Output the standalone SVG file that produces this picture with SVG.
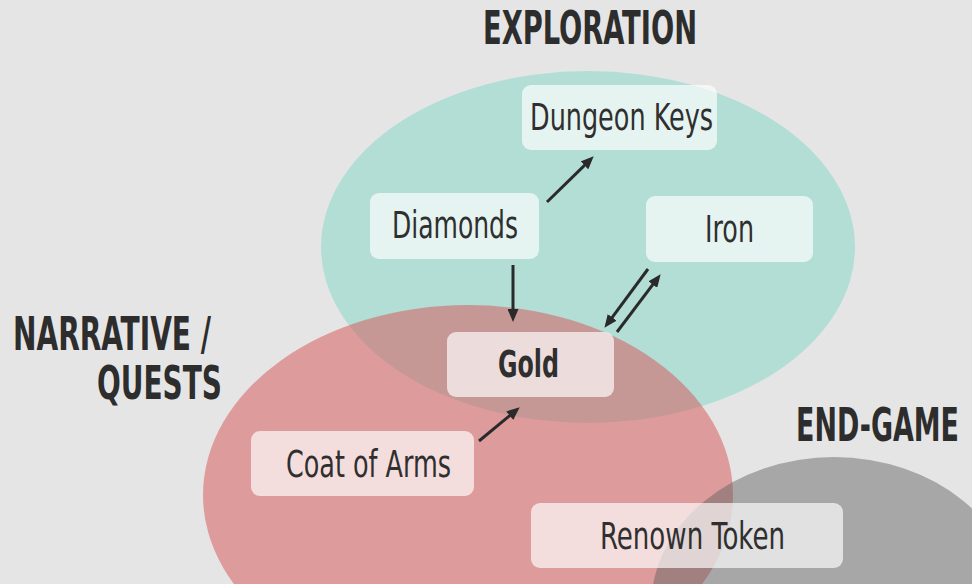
<svg xmlns="http://www.w3.org/2000/svg" width="972" height="584" viewBox="0 0 972 584">
<style>
.bg{fill:#e6e5e5}
.teal{fill:#b2ded6}
.red{fill:#d75f61;fill-opacity:0.55}
.gray{fill:#626262;fill-opacity:0.47}
.box{fill:#ffffff;fill-opacity:0.66}
.lbl{font-family:"Liberation Sans Narrow","DejaVu Sans Condensed","Roboto Condensed","Liberation Sans",sans-serif;font-stretch:condensed;font-size:37px;fill:#2f2f2f}
.bold{font-weight:bold}
.head{font-family:"Liberation Sans Narrow","DejaVu Sans Condensed","Liberation Sans",sans-serif;font-stretch:condensed;font-weight:bold;font-size:46px;fill:#2d2d2d}
.conn{stroke:#2a2a2a;stroke-width:3;fill:none;marker-end:url(#ah)}
</style>
<defs>
<marker id="ah" markerUnits="userSpaceOnUse" markerWidth="13" markerHeight="11" refX="4" refY="5.5" orient="auto">
<path d="M0,0 L13,5.5 L0,11 z" fill="#2a2a2a"/>
</marker>
</defs>
<rect class="bg" x="0" y="0" width="972" height="584"/>
<g id="region-exploration">
<ellipse class="teal" cx="588" cy="247" rx="267" ry="176"/>
<text class="head" x="483" y="44" textLength="214" lengthAdjust="spacingAndGlyphs">EXPLORATION</text>
</g>
<g id="region-narrative">
<ellipse class="red" cx="468" cy="495" rx="265" ry="190"/>
<text class="head" x="13" y="350" textLength="198" lengthAdjust="spacingAndGlyphs">NARRATIVE /</text>
<text class="head" x="97" y="399" textLength="125" lengthAdjust="spacingAndGlyphs">QUESTS</text>
</g>
<g id="region-endgame">
<ellipse class="gray" cx="834" cy="607" rx="183" ry="150"/>
<text class="head" transform="translate(796,441) scale(1,1.53)" x="0" y="0" style="font-size:30px" textLength="163" lengthAdjust="spacingAndGlyphs">END-GAME</text>
</g>
<g id="connectors">
<line class="conn" x1="547" y1="202" x2="587.3" y2="162.6"/>
<line class="conn" x1="513" y1="265" x2="513" y2="313"/>
<line class="conn" x1="648" y1="269" x2="609.8" y2="320.6"/>
<line class="conn" x1="617" y1="332" x2="655.2" y2="281.4"/>
<line class="conn" x1="479" y1="441" x2="512.8" y2="413.1"/>
</g>
<g id="node-dungeon-keys">
<rect class="box" x="522" y="85" width="195" height="65" rx="9"/>
<text class="lbl" x="530" y="130" textLength="183" lengthAdjust="spacingAndGlyphs">Dungeon Keys</text>
</g>
<g id="node-diamonds">
<rect class="box" x="370" y="193" width="169" height="66" rx="9"/>
<text class="lbl" x="392" y="238" textLength="126" lengthAdjust="spacingAndGlyphs">Diamonds</text>
</g>
<g id="node-iron">
<rect class="box" x="646" y="196" width="167" height="66" rx="9"/>
<text class="lbl" x="705" y="242" textLength="49" lengthAdjust="spacingAndGlyphs">Iron</text>
</g>
<g id="node-gold">
<rect class="box" x="447" y="332" width="167" height="65" rx="9"/>
<text class="lbl bold" x="498" y="377" textLength="61" lengthAdjust="spacingAndGlyphs">Gold</text>
</g>
<g id="node-coat-of-arms">
<rect class="box" x="251" y="431" width="223" height="65" rx="9"/>
<text class="lbl" x="286" y="477" textLength="165" lengthAdjust="spacingAndGlyphs">Coat of Arms</text>
</g>
<g id="node-renown-token">
<rect class="box" x="531" y="503" width="312" height="65" rx="9"/>
<text class="lbl" x="600" y="549" textLength="185" lengthAdjust="spacingAndGlyphs">Renown Token</text>
</g>
</svg>
